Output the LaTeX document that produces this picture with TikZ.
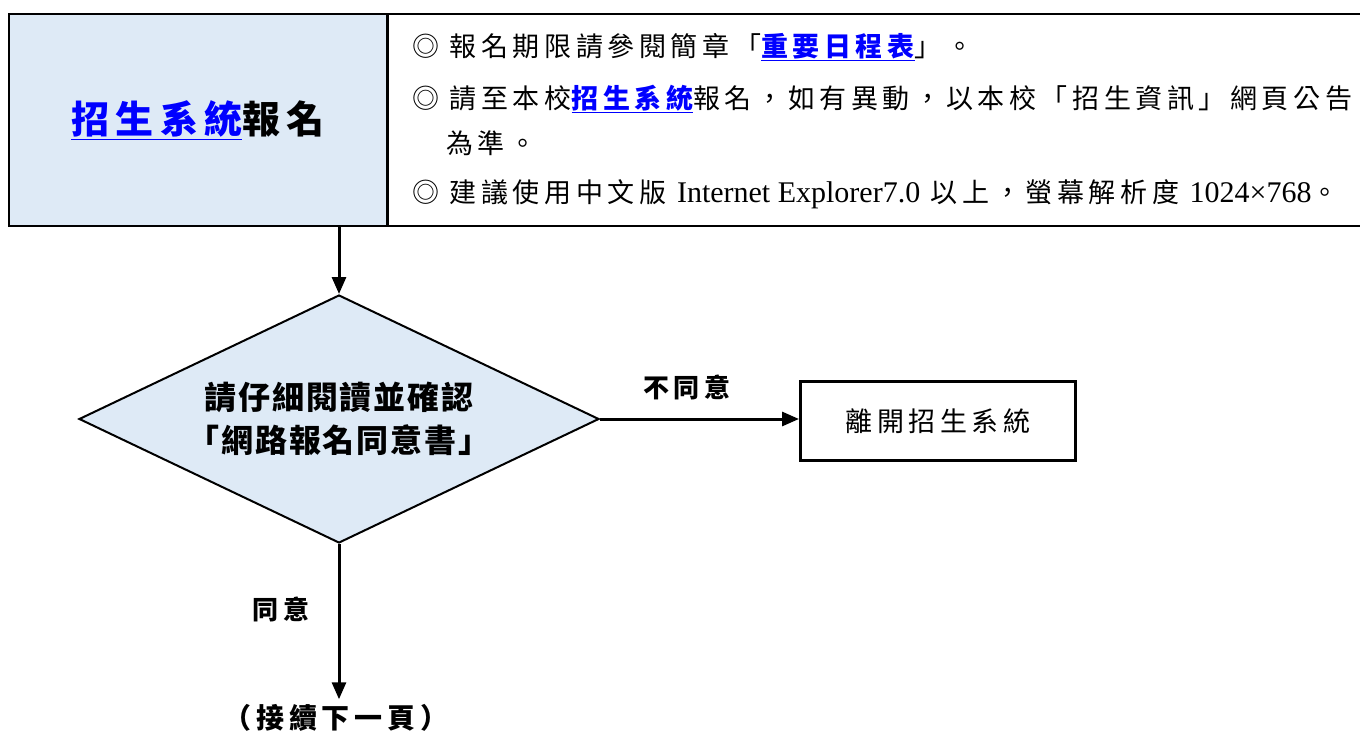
\documentclass[tikz,border=0pt]{standalone}
\usepackage{fontspec}
\setmainfont{Noto Sans CJK TC}[LetterSpace=17]
\newfontfamily\latinf{Liberation Serif}
\usetikzlibrary{shapes.geometric,arrows.meta}
\definecolor{cellblue}{HTML}{DEEAF6}
\definecolor{linkblue}{HTML}{0000FF}
\newcommand{\lnk}[1]{\textcolor{linkblue}{\underline{\bfseries #1}}}
\newcommand{\lat}[1]{{\fontsize{30bp}{30bp}\latinf #1}}
\tikzset{
  cell/.style={draw=black, line width=2.5bp, rectangle, inner sep=0pt},
  txt/.style={anchor=west, inner sep=0pt, font=\fontsize{27bp}{30bp}\selectfont},
  lbl/.style={inner sep=0pt, font=\fontsize{26bp}{30bp}\selectfont\bfseries},
  arr/.style={line width=3bp, -{Triangle[length=17bp,width=14bp]}},
}
\begin{document}
\begin{tikzpicture}[x=1bp,y=-1bp]
\useasboundingbox (0,0) rectangle (1360,731);
% table
\node[cell, fill=cellblue, minimum width=378bp, minimum height=212bp,
      font=\fontsize{38bp}{40bp}\selectfont\bfseries] (tl) at (198,120)
      {\lnk{招生系統}報名};
\node[cell, minimum width=990bp, minimum height=212bp] (tr) at (883,120) {};
\node[txt] (r1) at (412,47) {◎ 報名期限請參閱簡章「\lnk{重要日程表}」。};
\node[txt] (r2) at (412,99) {◎ 請至本校\lnk{招生系統}報名，如有異動，以本校「招生資訊」網頁公告};
\node[txt] (r3) at (446,143) {為準。};
\node[txt] (r4) at (412,194) {◎ 建議使用中文版 \lat{Internet Explorer7.0} 以上，螢幕解析度 \lat{1024×768}。};
% diamond
\node[diamond, aspect=2.1, draw=black, line width=2bp, fill=cellblue, inner sep=0pt,
      minimum width=520bp, minimum height=248bp, align=center,
      font=\fontsize{32bp}{43bp}\selectfont\bfseries\addfontfeature{LetterSpace=6}] (dia) at (339,419)
      {請仔細閱讀並確認\\「網路報名同意書」};
% exit box
\node[draw=black, line width=3bp, minimum width=275bp, minimum height=79bp,
      inner sep=0pt, font=\fontsize{27bp}{30bp}\selectfont] (exit) at (938,421) {離開招生系統};
% next page
\node[lbl, font=\fontsize{28bp}{30bp}\selectfont\bfseries] (next) at (336,718) {（接續下一頁）};
% connectors
\draw[arr] (dia.north |- tl.south) -- (dia.north);
\draw[arr] (dia.east) -- (dia.east -| exit.west);
\draw[arr] (dia.south) -- ([yshift=5bp]next.north -| dia.south);
% labels
\node[lbl] (no) at (687,387) {不同意};
\node[lbl] (yes) at (281,609) {同意};
\end{tikzpicture}
\end{document}
